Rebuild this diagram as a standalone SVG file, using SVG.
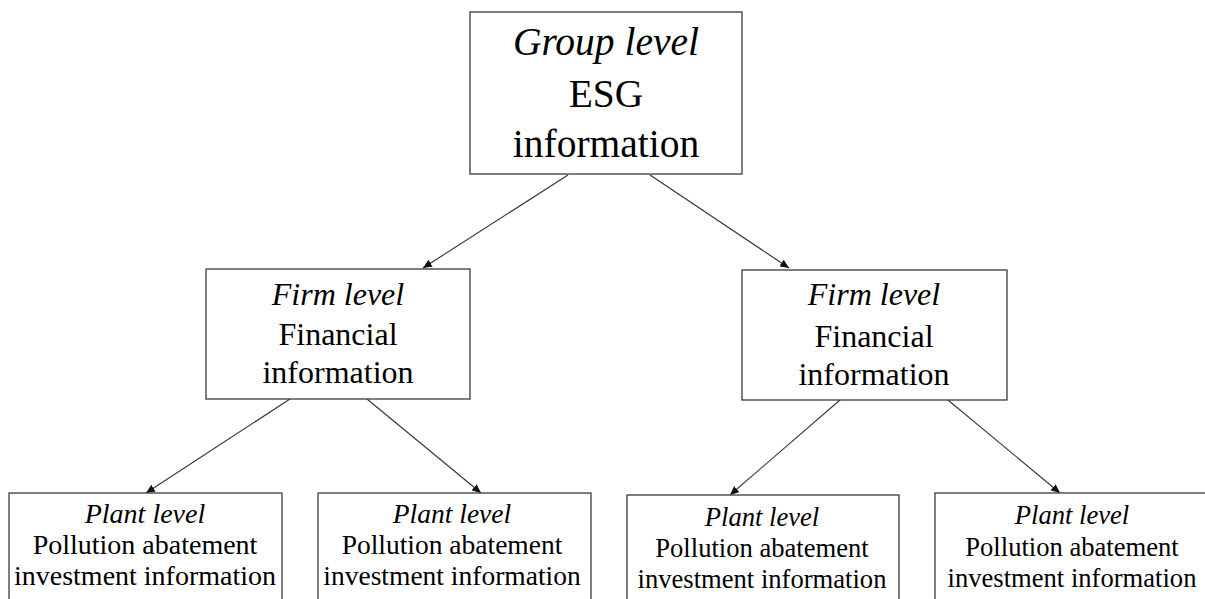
<svg xmlns="http://www.w3.org/2000/svg" width="1205" height="599" viewBox="0 0 1205 599">
<style>
.box{fill:#ffffff;stroke:#3a3a3a;stroke-width:1.3}
text{font-family:"Liberation Serif","Times New Roman",serif;fill:#000;text-anchor:middle}
.i{font-style:italic}
.conn{stroke:#333;stroke-width:1.1;fill:none;marker-end:url(#ah)}
</style>
<defs>
<marker id="ah" markerUnits="userSpaceOnUse" markerWidth="10" markerHeight="8" refX="9" refY="4" orient="auto">
<path d="M0,0 L9,4 L0,8 Z" fill="#111"/>
</marker>
</defs>
<rect width="1205" height="599" fill="#fff"/>
<g id="connectors">
<line class="conn" x1="568" y1="175" x2="423" y2="268"/>
<line class="conn" x1="650" y1="175" x2="789" y2="268"/>
<line class="conn" x1="290" y1="399" x2="146" y2="493"/>
<line class="conn" x1="367" y1="399" x2="481" y2="493"/>
<line class="conn" x1="840" y1="400" x2="730" y2="495"/>
<line class="conn" x1="948" y1="400" x2="1060" y2="493"/>
</g>
<g id="group">
<rect class="box" x="470" y="12" width="272" height="162"/>
<text class="i" x="606" y="55" font-size="39.5">Group level</text>
<text x="606" y="107" font-size="39.5">ESG</text>
<text x="606" y="157" font-size="39.5">information</text>
</g>
<g id="firm-left">
<rect class="box" x="206" y="269" width="264" height="130"/>
<text class="i" x="338" y="305" font-size="32">Firm level</text>
<text x="338" y="345" font-size="32">Financial</text>
<text x="338" y="383" font-size="32">information</text>
</g>
<g id="firm-right">
<rect class="box" x="742" y="270" width="265" height="130"/>
<text class="i" x="874" y="305" font-size="32">Firm level</text>
<text x="874" y="347" font-size="32">Financial</text>
<text x="874" y="385" font-size="32">information</text>
</g>
<g id="plant-1">
<rect class="box" x="9" y="493" width="273" height="120"/>
<text class="i" x="145" y="523" font-size="28">Plant level</text>
<text x="145" y="554" font-size="28">Pollution abatement</text>
<text x="145" y="585" font-size="28">investment information</text>
</g>
<g id="plant-2">
<rect class="box" x="318" y="493" width="273" height="120"/>
<text class="i" x="452" y="523" font-size="27.5">Plant level</text>
<text x="452" y="554" font-size="27.5">Pollution abatement</text>
<text x="452" y="585" font-size="27.5">investment information</text>
</g>
<g id="plant-3">
<rect class="box" x="627" y="495" width="272" height="120"/>
<text class="i" x="762" y="526" font-size="26.6">Plant level</text>
<text x="762" y="557" font-size="26.6">Pollution abatement</text>
<text x="762" y="588" font-size="26.6">investment information</text>
</g>
<g id="plant-4">
<rect class="box" x="935" y="493" width="290" height="120"/>
<text class="i" x="1072" y="524" font-size="26.6">Plant level</text>
<text x="1072" y="556" font-size="26.6">Pollution abatement</text>
<text x="1072" y="587" font-size="26.6">investment information</text>
</g>
</svg>
